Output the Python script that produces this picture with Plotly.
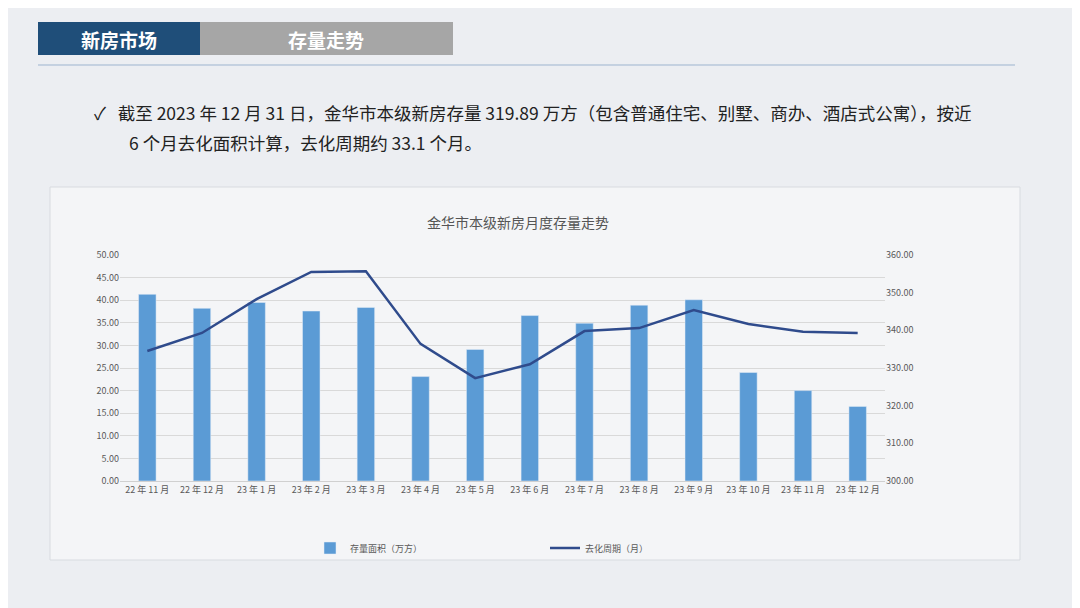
import plotly.graph_objects as go

months = ["22 年 11 月","22 年 12 月","23 年 1 月","23 年 2 月","23 年 3 月","23 年 4 月","23 年 5 月",
          "23 年 6 月","23 年 7 月","23 年 8 月","23 年 9 月","23 年 10 月","23 年 11 月","23 年 12 月"]
stock = [41.3, 38.2, 39.5, 37.6, 38.4, 23.1, 29.1, 36.6, 34.9, 38.9, 40.1, 24.0, 20.0, 16.5]
cycle = [334.5, 339.3, 348.3, 355.5, 355.7, 336.4, 327.3, 331.0, 339.8, 340.6, 345.4, 341.7, 339.6, 339.3]

OFF = 8  # page body margin
W, H = 1080 - OFF, 608 - OFF
L, R, T, B = 120 - OFF, 885 - OFF, 255 - OFF, 481 - OFF
def px(x): return (x - OFF - L) / (R - L)
def py(y): return (B - (y - OFF)) / (B - T)

FONT = "Noto Sans CJK SC, Noto Sans, sans-serif"

fig = go.Figure()
fig.add_trace(go.Bar(x=months, y=stock, name="存量面积（万方）", marker_color="#5b9bd5", width=0.32, yaxis="y"))
fig.add_trace(go.Scatter(x=months, y=cycle, name="去化周期（月）", mode="lines",
                         line=dict(color="#2f4b8c", width=2.5), yaxis="y2"))

shapes = [
    dict(type="rect", xref="paper", yref="paper", x0=px(0), x1=px(1090), y0=py(620), y1=py(0),
         fillcolor="#eceef2", line_width=0, layer="below"),
    dict(type="rect", xref="paper", yref="paper", x0=px(50), x1=px(1020), y0=py(560), y1=py(187),
         fillcolor="#f4f5f7", line=dict(color="#d8dbe0", width=1), layer="below"),
    dict(type="rect", xref="paper", yref="paper", x0=px(38), x1=px(200), y0=py(55), y1=py(22),
         fillcolor="#1f4e79", line_width=0),
    dict(type="rect", xref="paper", yref="paper", x0=px(200), x1=px(453), y0=py(55), y1=py(22),
         fillcolor="#a6a6a6", line_width=0),
    dict(type="line", xref="paper", yref="paper", x0=px(38), x1=px(1015), y0=py(65), y1=py(65),
         line=dict(color="#9db4cf", width=1)),
]
ann = [
    dict(x=px(119), y=py(39), text="<b>新房市场</b>", font=dict(size=19, color="white")),
    dict(x=px(326), y=py(39), text="<b>存量走势</b>", font=dict(size=19, color="white")),
    dict(x=px(92), y=py(112), xanchor="left", text="✓   截至 2023 年 12 月 31 日，金华市本级新房存量 319.89 万方（包含普通住宅、别墅、商办、酒店式公寓），按近",
         font=dict(size=17.5, color="#222")),
    dict(x=px(127), y=py(143), xanchor="left", text="6 个月去化面积计算，去化周期约 33.1 个月。",
         font=dict(size=17.5, color="#222")),
    dict(x=px(518), y=py(222), text="金华市本级新房月度存量走势", font=dict(size=14, color="#555")),
]
for a in ann:
    a.update(xref="paper", yref="paper", showarrow=False, yanchor="middle")
    a.setdefault("xanchor", "center")
    a["font"]["family"] = FONT

fig.update_layout(
    width=W, height=H, margin=dict(l=L, r=W - R, t=T, b=H - B),
    paper_bgcolor="#eceef2", plot_bgcolor="rgba(0,0,0,0)",
    font=dict(family=FONT, color="#595959"),
    shapes=shapes, annotations=ann, bargap=0.5,
    xaxis=dict(tickfont=dict(size=9), showgrid=False, linecolor="#d0d0d0", ticks=""),
    yaxis=dict(range=[0, 50], dtick=5, tickformat=".2f", tickfont=dict(size=9),
               gridcolor="#d9d9d9", zeroline=False),
    yaxis2=dict(range=[300, 360], dtick=10, tickformat=".2f", tickfont=dict(size=9),
                overlaying="y", side="right", showgrid=False),
    legend=dict(orientation="h", x=px(545), xanchor="center", y=py(548), yanchor="middle",
                font=dict(size=9), bgcolor="rgba(0,0,0,0)", entrywidthmode="pixels", entrywidth=190),
)
fig.write_html("out.html")
